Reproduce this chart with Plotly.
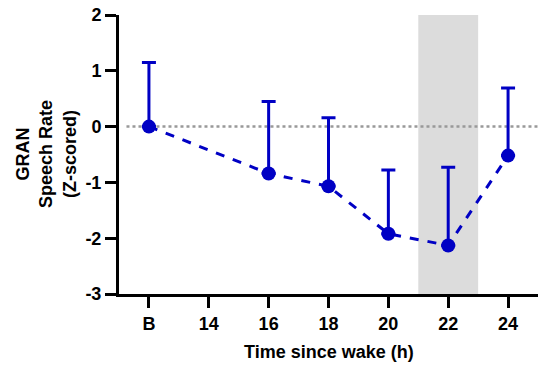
import plotly.graph_objects as go

x_labels = ["B", "14", "16", "18", "20", "22", "24"]
x_pos = [12, 14, 16, 18, 20, 22, 24]
y_ticks = [-3, -2, -1, 0, 1, 2]
y_labels = ["-3", "-2", "-1", "0", "1", "2"]
pt_x = [12, 16, 18, 20, 22, 24]
pt_mean = [0.0, -0.84, -1.07, -1.92, -2.13, -0.52]
pt_upper = [1.15, 0.45, 0.16, -0.78, -0.73, 0.69]
shade = [21, 23]

blue = "#0000C4"
font = "Liberation Sans, Arial, sans-serif"

fig = go.Figure()
fig.add_shape(type="rect", xref="x", yref="y", x0=shade[0], x1=shade[1], y0=-3, y1=2,
              fillcolor="#DCDCDC", line_width=0, layer="below")
fig.add_shape(type="line", xref="x", yref="y", x0=11.25, x1=25, y0=0, y1=0,
              line=dict(color="#999999", width=2.5, dash="dot"), layer="below")
fig.add_trace(go.Scatter(
    x=pt_x, y=pt_mean, mode="lines+markers",
    line=dict(color=blue, width=3, dash="dash"),
    marker=dict(color=blue, size=14),
    error_y=dict(type="data", symmetric=False,
                 array=[u - m for u, m in zip(pt_upper, pt_mean)],
                 arrayminus=[0] * len(pt_mean),
                 color=blue, thickness=3, width=7),
    showlegend=False, cliponaxis=False,
))

fig.add_annotation(text="<b>Time since wake (h)</b>", xref="paper", yref="paper",
                   x=0.5, y=-0.2086, xanchor="center", yanchor="middle", showarrow=False,
                   font=dict(size=18, family=font, color="black"))
fig.add_annotation(text="<b>GRAN<br>Speech Rate<br>(Z-scored)</b>", xref="paper", yref="paper",
                   x=-0.173, y=0.5, xanchor="center", yanchor="middle", showarrow=False,
                   textangle=-90, font=dict(size=18, family=font, color="black"))

fig.update_layout(
    width=539, height=365,
    margin=dict(l=119, r=1, t=15, b=71, autoexpand=False),
    plot_bgcolor="white", paper_bgcolor="white",
    font=dict(family=font, color="black"),
    xaxis=dict(range=[11, 25], tickvals=x_pos, ticktext=x_labels, automargin=False,
               showgrid=False, zeroline=False, showline=True, linecolor="black", linewidth=3,
               ticks="outside", ticklen=11, tickwidth=2.5, tickcolor="black",
               tickfont=dict(size=18, family=font, weight="bold")),
    yaxis=dict(range=[-3, 2], tickvals=y_ticks, ticktext=y_labels, automargin=False,
               showgrid=False, zeroline=False, showline=True, linecolor="black", linewidth=3,
               ticks="outside", ticklen=11, tickwidth=2.5, tickcolor="black",
               tickfont=dict(size=18, family=font, weight="bold")),
)

fig.write_html("out.html", config={"displayModeBar": False},
               post_script="document.body.style.margin='0';document.body.style.overflow='hidden';")
